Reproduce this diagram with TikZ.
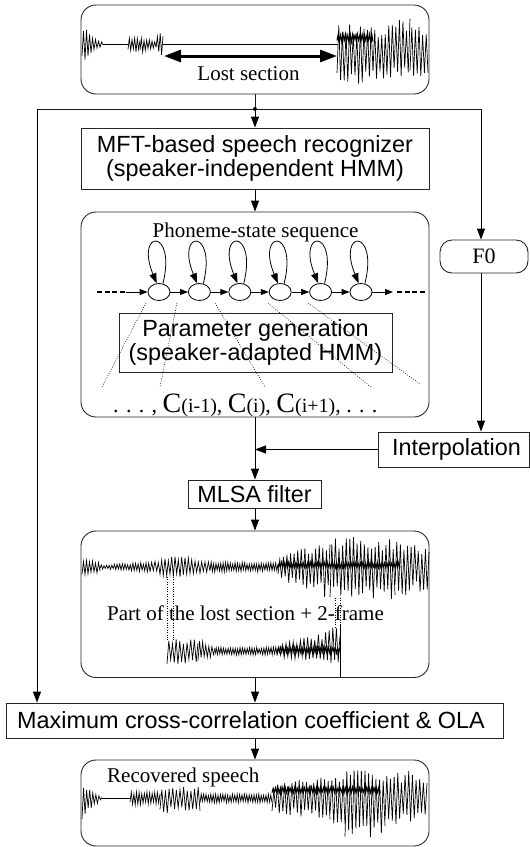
\documentclass[tikz,border=0pt]{standalone}
\usepackage{fontspec}
\setmainfont{Liberation Serif}
\setsansfont{Liberation Sans}
\usetikzlibrary{arrows.meta,shapes.geometric}
\newcommand{\tms}{\rmfamily\fontsize{21}{24}\selectfont}
\newcommand{\mycc}[1]{{\fontsize{28}{30}\selectfont C}{\fontsize{20}{22}\selectfont(#1)}}
\newcommand{\wavelw}{0.7pt}
% waveform segment: x0 x1 yc up0 up1 dn0 dn1 step
\newcommand{\wseg}[8]{%
  \pgfmathtruncatemacro\wsegN{max(2,round(abs(#2-#1)/#8))}%
  \pgfmathtruncatemacro\wsegNp{\wsegN+1}%
  \pgfmathsetmacro\wsegDx{(#2-#1)/\wsegN}%
  \draw[wave] plot[variable=\wi, domain=0:\wsegN, samples=\wsegNp]
    ({#1+\wi*\wsegDx}, {#3 + ((mod(round(\wi),2) < 0.5) ? (#6+(#7-#6)*\wi/\wsegN) : (-(#4+(#5-#4)*\wi/\wsegN)))*(0.55+0.45*rnd)});%
}
\begin{document}
\begin{tikzpicture}[x=1pt,y=-1pt,
  ln/.style={line width=0.9pt, draw=black!90},
  box/.style={draw=black!85, line width=0.9pt, inner sep=0pt, align=center, font={\sffamily\fontsize{23.4}{24.5}\selectfont}},
  rbox/.style={draw=black!85, line width=0.9pt, rounded corners=15pt, inner sep=0pt},
  arr/.style={line width=0.9pt, -{Triangle[length=11pt,width=8pt]}},
  sarr/.style={line width=0.8pt, -{Triangle[length=8pt,width=6pt]}},
  larr/.style={line width=0.8pt, -{Triangle[length=10pt,width=7pt]}},
  state/.style={ellipse, draw, line width=0.8pt, minimum width=22pt, minimum height=17pt, inner sep=0pt},
  dsh/.style={line width=2pt, dash pattern=on 5pt off 2.5pt},
  dot/.style={line width=0.6pt, dash pattern=on 0.8pt off 1.6pt},
  wave/.style={line width=\wavelw},
  lbl/.style={font=\tms, inner sep=0pt},
]
\useasboundingbox (0,0) rectangle (530,847);
\pgfmathsetseed{7}

% boxes
\node[rbox, minimum width=348pt, minimum height=89pt] (top) at (255,49.5) {};
\node[box, minimum width=348pt, minimum height=61pt] (mft) at (255,158.5) {MFT-based speech recognizer\\(speaker-independent HMM)};
\node[rbox, minimum width=348pt, minimum height=205pt] (phon) at (255,314.5) {};
\node[box, minimum width=273pt, minimum height=59pt] (param) at (255.5,342.5) {Parameter generation\\(speaker-adapted HMM)};
\node[rbox, rounded corners=12pt, minimum width=88pt, minimum height=33pt, font={\rmfamily\fontsize{22}{24}\selectfont}] (f0) at (484,256.5) {F0};
\node[box, minimum width=151pt, minimum height=35pt] (interp) at (453.5,449.5) {\hspace{6pt}Interpolation};
\node[box, minimum width=133pt, minimum height=28pt] (mlsa) at (254.5,494) {MLSA filter};
\node[rbox, minimum width=348pt, minimum height=146.5pt] (wbox) at (255,604.25) {};
\node[box, minimum width=497pt, minimum height=35pt] (max) at (254.5,720.5) {Maximum cross-correlation coefficient \& OLA\hspace{7pt}};
\node[rbox, minimum width=348pt, minimum height=86pt] (rec) at (255,803) {};

% labels
\node[lbl, anchor=base] (lost) at (248.5,80) {Lost section};
\node[lbl, anchor=base] (pss) at (255.5,237) {Phoneme-state sequence};
\node[lbl, anchor=base west] (part) at (107,620) {Part of the lost section + 2-frame};
\node[lbl, anchor=base west] (recl) at (107,782) {Recovered speech};
\node[anchor=base west, inner sep=0pt, font={\rmfamily\fontsize{22}{24}\selectfont}] (ctext) at (113,412) {. . . , \mycc{i-1}, \mycc{i}, \mycc{i+1}, . . .};

% top waveform
\wseg{82}{103}{44}{18}{1}{19}{1}{1.5}
\draw[wave] (103,44) -- (128,44);
\wseg{128}{140}{44}{7}{6}{6}{9}{1.3}
\wseg{140}{156}{44}{6}{3}{9}{3}{1.3}
\wseg{156}{163}{44}{8}{13}{6}{12}{1.5}
\draw[line width=0.7pt] (163,44) -- (338,44);
\wseg{337}{373}{52}{32}{32}{32}{32}{1.8}
\wseg{373}{387}{52}{26}{24}{28}{28}{1.8}
\wseg{387}{410}{52}{34}{34}{28}{28}{1.8}
\wseg{410}{428}{52}{34}{22}{28}{22}{1.8}
\renewcommand{\wavelw}{1.1pt}
\wseg{337}{373}{38}{4}{4}{4}{4}{1.2}
\renewcommand{\wavelw}{0.7pt}
\coordinate (ls1) at (164,56);
\coordinate (ls2) at (337,56);
\draw[line width=3pt, {Triangle[length=17pt,width=12pt]}-{Triangle[length=17pt,width=12pt]}] (ls1) -- (ls2);

% junction and side lines
\coordinate (jn) at (255,109);
\coordinate (jl) at (37,109);
\coordinate (jr) at (481,109);
\draw[ln] (top.south) -- (jn);
\draw[ln] (jl) -- (jr);
\fill (jn) circle (2pt);
\draw[arr] (jn) -- (mft.north);
\draw[arr] (jl) -- (jl |- max.north);
\draw[arr] (jr) -- (jr |- f0.north);
\draw[arr] (jr |- f0.south) -- (jr |- interp.north);
\draw[arr] (mft.south) -- (phon.north);

% states
\foreach \i [evaluate=\i as \cx using 159+40.4*(\i-1)] in {1,...,6}
  \node[state] (s\i) at (\cx,292) {};
\foreach \i/\j in {1/2,2/3,3/4,4/5,5/6}
  \draw[sarr] (s\i) -- (s\j);
\foreach \i in {1,...,6}
  \draw[larr] (s\i.65) .. controls +(14,-56) and +(-22,-54) .. (s\i.105);
\coordinate (dl0) at (97,292);
\coordinate (dl1) at (126,292);
\draw[dsh] (dl0) -- (dl1);
\draw[sarr] (dl1) -- (s1.west);
\coordinate (dr0) at (393,292);
\coordinate (dr1) at (397,292);
\coordinate (dr2) at (425,292);
\draw[sarr] (s6.east) -- (dr0);
\draw[dsh] (dr1) -- (dr2);

% dotted mapping lines
\coordinate (d1a) at (146,303); \coordinate (d1b) at (102,387);
\coordinate (d2a) at (177,303); \coordinate (d2b) at (160,387);
\coordinate (d3a) at (215,303); \coordinate (d3b) at (265,387);
\coordinate (d4a) at (268,303); \coordinate (d4b) at (372,388);
\coordinate (d5a) at (308,303); \coordinate (d5b) at (420,384);
\foreach \k in {1,...,5} \draw[dot] (d\k a) -- (d\k b);

% lower chain
\draw[arr] (phon.south) -- (phon.south |- mlsa.north);
\coordinate (mj) at (phon.south |- interp.west);
\draw[arr] (interp.west) -- (mj);
\draw[arr] (wbox.north |- mlsa.south) -- (wbox.north);
\draw[arr] (wbox.south) -- (wbox.south |- max.north);
\draw[arr] (rec.north |- max.south) -- (rec.north);

% synthesized waveform
\wseg{82}{100}{567}{8}{6}{8}{6}{1.5}
\wseg{100}{150}{567}{2}{5}{2}{5}{1.3}
\wseg{150}{180}{567}{5}{13}{5}{13}{1.7}
\wseg{180}{210}{567}{13}{5}{13}{5}{1.7}
\wseg{210}{278}{567}{5}{5}{5}{5}{1.2}
\wseg{278}{330}{567}{10}{30}{12}{32}{1.8}
\wseg{330}{395}{567}{30}{30}{32}{32}{1.8}
\wseg{395}{429}{567}{30}{18}{32}{22}{1.8}
\renewcommand{\wavelw}{1.1pt}
\wseg{278}{400}{565}{3}{3}{3}{3}{1.2}
\renewcommand{\wavelw}{0.7pt}
% extracted part
\wseg{167}{198}{651}{13}{12}{14}{12}{1.8}
\wseg{198}{215}{651}{12}{4}{12}{4}{1.5}
\wseg{215}{277}{651}{4}{4}{4}{4}{1.2}
\wseg{277}{340}{651}{5}{26}{6}{14}{1.8}
\renewcommand{\wavelw}{1.1pt}
\wseg{277}{340}{650}{3}{3}{3}{3}{1.2}
\renewcommand{\wavelw}{0.7pt}
\draw[wave] (340,624) -- (340,677);
\coordinate (v1a) at (167,577); \coordinate (v1b) at (167,640);
\coordinate (v2a) at (173,577); \coordinate (v2b) at (173,640);
\coordinate (v3a) at (335,598); \coordinate (v3b) at (335,627);
\coordinate (v4a) at (340,598); \coordinate (v4b) at (340,627);
\foreach \k in {1,...,4} \draw[dot] (v\k a) -- (v\k b);

% recovered waveform
\wseg{82}{102}{798}{16}{1}{24}{1}{1.5}
\draw[wave] (102,798) -- (130,798);
\wseg{130}{160}{798}{6}{6}{7}{7}{1.3}
\wseg{160}{200}{798}{12}{12}{16}{14}{1.8}
\wseg{200}{272}{798}{4}{4}{5}{5}{1.2}
\wseg{272}{330}{798}{12}{28}{15}{24}{1.8}
\wseg{330}{345}{798}{20}{28}{24}{35}{1.8}
\wseg{345}{385}{798}{28}{28}{42}{42}{1.8}
\wseg{385}{427}{798}{28}{26}{27}{24}{1.8}
\renewcommand{\wavelw}{1.1pt}
\wseg{272}{380}{790}{3}{3}{3}{3}{1.2}
\renewcommand{\wavelw}{0.7pt}
\end{tikzpicture}
\end{document}
